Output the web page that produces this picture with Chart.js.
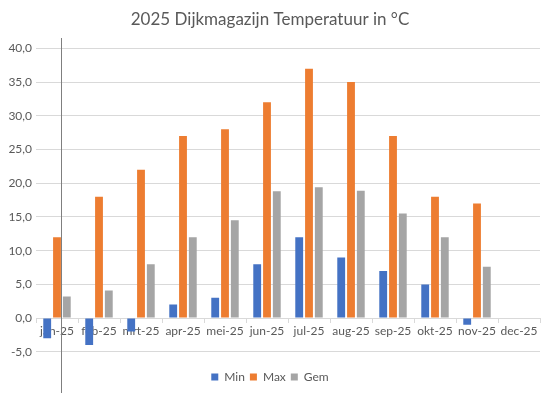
<!DOCTYPE html>
<html>
<head>
<meta charset="utf-8">
<script src="https://cdn.jsdelivr.net/npm/chart.js@4.4.0/dist/chart.umd.min.js"></script>
<style>
    html, body { margin: 0; padding: 0; background: #fff; }
    #wrap { width: 546px; height: 393px; position: relative; }
</style>
</head>
<body>
<div id="wrap"><canvas id="tempChart"></canvas></div>
<script>
// Dijkmagazijn temperaturen 2025
const months = ['jan-25', 'feb-25', 'mrt-25', 'apr-25', 'mei-25', 'jun-25',
                'jul-25', 'aug-25', 'sep-25', 'okt-25', 'nov-25', 'dec-25'];
const minTemp = [-3, -4, -2, 2, 3, 8, 12, 9, 7, 5, -1, null];
const maxTemp = [12, 18, 22, 27, 28, 32, 37, 35, 27, 18, 17, null];
const gemTemp = [3.2, 4.1, 8.0, 12.0, 14.5, 18.8, 19.4, 18.9, 15.5, 12.0, 7.6, null];
const yTicks = [-5, 0, 5, 10, 15, 20, 25, 30, 35, 40];

const textColor = '#595959';
const gridColor = '#d9d9d9';
const fontFamily = 'Lato, "Open Sans", sans-serif';

// Vertical line through january, like in the original sheet
const markerLine = {
    id: 'markerLine',
    afterDraw(chart) {
        const ctx = chart.ctx;
        const x = Math.round(chart.chartArea.left + 25) + 0.5;
        ctx.save();
        ctx.strokeStyle = '#7f7f7f';
        ctx.lineWidth = 1;
        ctx.beginPath();
        ctx.moveTo(x, 38);
        ctx.lineTo(x, chart.height);
        ctx.stroke();
        ctx.restore();
    }
};

const barStyle = {
    categoryPercentage: 0.7,
    barPercentage: 0.8
};

new Chart(document.getElementById('tempChart'), {
    type: 'bar',
    data: {
        labels: months,
        datasets: [
            Object.assign({ label: 'Min', data: minTemp, backgroundColor: '#4472c4' }, barStyle),
            Object.assign({ label: 'Max', data: maxTemp, backgroundColor: '#ed7d31' }, barStyle),
            Object.assign({ label: 'Gem', data: gemTemp, backgroundColor: '#a5a5a5' }, barStyle)
        ]
    },
    options: {
        responsive: true,
        maintainAspectRatio: false,
        animation: false,
        layout: {
            padding: { left: 0, right: 6, top: 9, bottom: 0 }
        },
        plugins: {
            title: {
                display: true,
                text: '2025 Dijkmagazijn Temperatuur in °C',
                color: textColor,
                font: { family: fontFamily, size: 17, weight: 'normal' },
                padding: { top: 0, bottom: 19 }
            },
            legend: {
                display: true,
                position: 'bottom',
                title: {
                    display: true,
                    text: ' ',
                    font: { size: 1 },
                    padding: { top: 13, bottom: 0 }
                },
                labels: {
                    color: textColor,
                    font: { family: fontFamily, size: 12 },
                    boxWidth: 7,
                    boxHeight: 7,
                    padding: 5
                }
            },
            tooltip: { enabled: false }
        },
        scales: {
            x: {
                position: { y: 0 },
                grid: {
                    display: true,
                    drawOnChartArea: false,
                    drawTicks: true,
                    tickLength: 4,
                    offset: true,
                    color: gridColor
                },
                border: { display: true, color: gridColor },
                ticks: {
                    color: textColor,
                    font: { family: fontFamily, size: 12 },
                    padding: 2,
                    maxRotation: 0,
                    autoSkip: false
                }
            },
            y: {
                min: -5,
                max: 40,
                afterFit(scale) { scale.width = 36; },
                afterBuildTicks(scale) {
                    scale.ticks = yTicks.map(v => ({ value: v }));
                },
                grid: { color: gridColor, drawTicks: false },
                border: { display: false },
                ticks: {
                    color: textColor,
                    font: { family: fontFamily, size: 12 },
                    padding: 4,
                    callback: v => v.toFixed(1).replace('.', ',')
                }
            }
        }
    },
    plugins: [markerLine]
});
</script>
</body>
</html>
